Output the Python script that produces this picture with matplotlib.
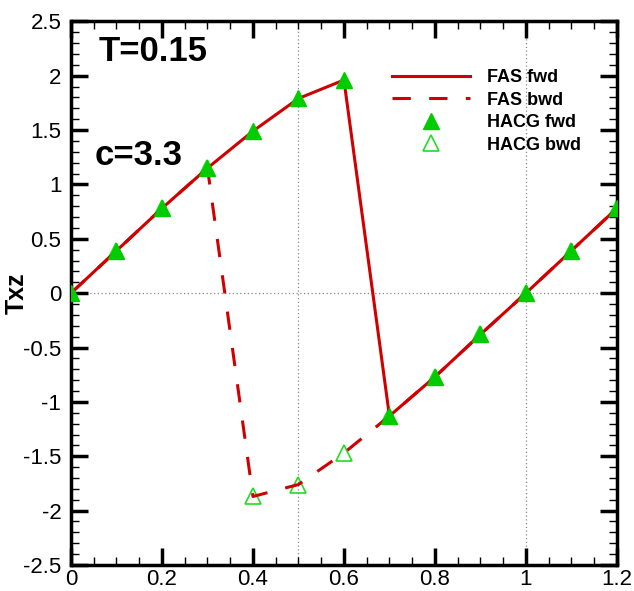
import matplotlib
matplotlib.use("Agg")
import matplotlib.pyplot as plt
from matplotlib.ticker import MultipleLocator

plt.rcParams['font.family'] = ['Liberation Sans', 'DejaVu Sans']

# shear stress Txz along x, forward and backward sweeps
x = [0.0, 0.1, 0.2, 0.3, 0.4, 0.5, 0.6, 0.7, 0.8, 0.9, 1.0, 1.1, 1.2]
txz_fwd = [0.0, 0.39, 0.78, 1.15, 1.49, 1.79, 1.96, -1.13, -0.77, -0.38, 0.0, 0.39, 0.78]
txz_bwd = [0.0, 0.39, 0.78, 1.15, -1.87, -1.76, -1.47, -1.13, -0.77, -0.38, 0.0, 0.39, 0.78]

xticks = [0, 0.2, 0.4, 0.6, 0.8, 1.0, 1.2]
xtick_labels = ['0', '0.2', '0.4', '0.6', '0.8', '1', '1.2']
yticks = [-2.5, -2, -1.5, -1, -0.5, 0, 0.5, 1, 1.5, 2, 2.5]
ytick_labels = ['-2.5', '-2', '-1.5', '-1', '-0.5', '0', '0.5', '1', '1.5', '2', '2.5']

red = '#d00000'
green = '#00cc00'

fig = plt.figure(figsize=(6.34, 5.91), dpi=100)
ax = fig.add_axes([0.112, 0.044, 0.861, 0.920])

# dotted reference lines
for gx in [0.5, 1.0]:
    ax.axvline(gx, color='#888888', lw=0.9, ls=(0, (1, 2)), zorder=1)
ax.axhline(0.0, color='#888888', lw=0.9, ls=(0, (1, 2)), zorder=1)

ax.plot(x, txz_fwd, color=red, lw=2.2, label='FAS fwd', zorder=3)
ax.plot(x, txz_bwd, color=red, lw=2.2, ls=(0, (6, 6)), label='FAS bwd', zorder=4)
ax.plot(x, txz_fwd, ls='none', marker='^', ms=11, color=green, mec=green,
        label='HACG fwd', zorder=5)
ax.plot(x, txz_bwd, ls='none', marker='^', ms=11, mfc='none', mec='#22dd22',
        mew=1.2, label='HACG bwd', zorder=2)

ax.set_xlim(0, 1.2)
ax.set_ylim(-2.5, 2.5)
ax.set_xticks(xticks)
ax.set_xticklabels(xtick_labels)
ax.set_yticks(yticks)
ax.set_yticklabels(ytick_labels)
ax.xaxis.set_minor_locator(MultipleLocator(0.05))
ax.yaxis.set_minor_locator(MultipleLocator(0.1))

ax.tick_params(which='both', direction='in', top=True, right=True, labelsize=16)
ax.tick_params(which='major', length=12, width=2.5)
ax.tick_params(which='minor', length=6, width=1.0)
ax.tick_params(axis='y', which='major', pad=7)
ax.tick_params(axis='x', which='major', pad=3)
for sp in ax.spines.values():
    sp.set_linewidth(2.5)

ax.set_ylabel('Txz', fontsize=18, fontweight='bold')
ax.yaxis.set_label_coords(-0.077, 0.5)

ax.text(0.05, 0.945, 'T=0.15', transform=ax.transAxes, fontsize=25,
        fontweight='bold', va='center', ha='left')
ax.text(0.043, 0.754, 'c=3.3', transform=ax.transAxes, fontsize=25,
        fontweight='bold', va='center', ha='left')

leg = ax.legend(loc='upper left', bbox_to_anchor=(0.575, 0.925), frameon=False,
                prop={'weight': 'bold', 'size': 13}, handlelength=4.3,
                handletextpad=0.95, labelspacing=0.3, borderaxespad=0)

fig.savefig('out.png', dpi=100)
